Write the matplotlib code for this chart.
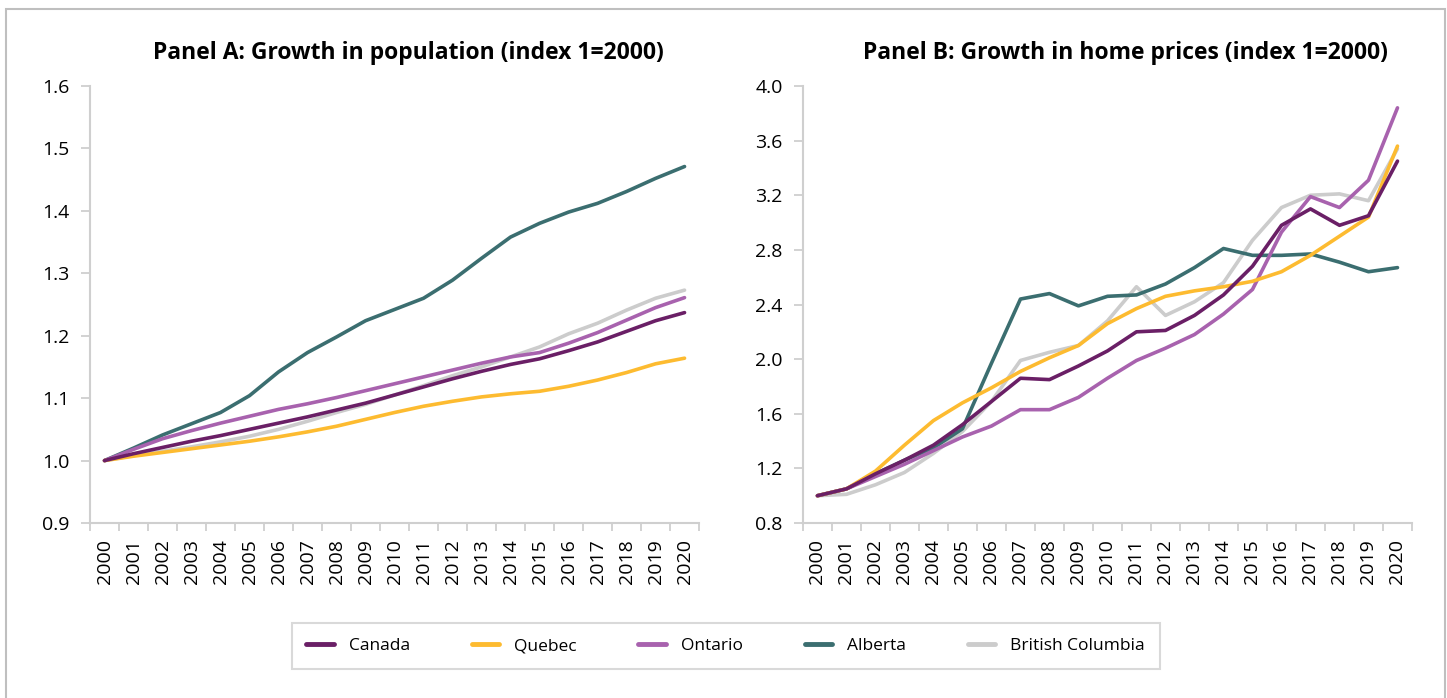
import matplotlib
matplotlib.use("Agg")
import matplotlib.pyplot as plt
from matplotlib.patches import Rectangle
import numpy as np

plt.rcParams['font.family'] = ['Open Sans', 'DejaVu Sans']

years = list(range(2000, 2021))
regions = ['Canada', 'Quebec', 'Ontario', 'Alberta', 'British Columbia']
colors = ['#6a1f66', '#fdbb30', '#a862ae', '#3b6e70', '#cccccc']

# Panel A: population index (2000 = 1)
pop_canada = [1.000, 1.011, 1.021, 1.031, 1.040, 1.050, 1.060, 1.070, 1.081, 1.092, 1.105,
              1.118, 1.131, 1.143, 1.154, 1.163, 1.176, 1.190, 1.207, 1.224, 1.237]
pop_quebec = [1.000, 1.007, 1.013, 1.019, 1.025, 1.031, 1.038, 1.046, 1.055, 1.066, 1.077,
              1.087, 1.095, 1.102, 1.107, 1.111, 1.119, 1.129, 1.141, 1.155, 1.164]
pop_ontario = [1.000, 1.018, 1.035, 1.048, 1.060, 1.071, 1.082, 1.091, 1.101, 1.112, 1.123,
               1.134, 1.145, 1.156, 1.166, 1.173, 1.188, 1.205, 1.225, 1.245, 1.261]
pop_alberta = [1.000, 1.020, 1.041, 1.059, 1.077, 1.104, 1.142, 1.173, 1.198, 1.224, 1.242,
               1.260, 1.289, 1.324, 1.358, 1.380, 1.398, 1.412, 1.431, 1.452, 1.471]
pop_bc = [1.000, 1.008, 1.015, 1.022, 1.030, 1.039, 1.050, 1.063, 1.077, 1.090, 1.105,
          1.120, 1.136, 1.150, 1.166, 1.182, 1.203, 1.220, 1.241, 1.260, 1.273]

# Panel B: home price index (2000 = 1)
hp_canada = [1.00, 1.05, 1.16, 1.26, 1.37, 1.52, 1.69, 1.86, 1.85, 1.95, 2.06,
             2.20, 2.21, 2.32, 2.47, 2.68, 2.98, 3.10, 2.98, 3.05, 3.45]
hp_quebec = [1.00, 1.05, 1.18, 1.37, 1.55, 1.68, 1.79, 1.91, 2.01, 2.10, 2.26,
             2.37, 2.46, 2.50, 2.53, 2.57, 2.64, 2.76, 2.90, 3.04, 3.56]
hp_ontario = [1.00, 1.05, 1.14, 1.23, 1.33, 1.43, 1.51, 1.63, 1.63, 1.72, 1.86,
              1.99, 2.08, 2.18, 2.33, 2.51, 2.93, 3.19, 3.11, 3.31, 3.84]
hp_alberta = [1.00, 1.05, 1.16, 1.26, 1.35, 1.49, 1.97, 2.44, 2.48, 2.39, 2.46,
              2.47, 2.55, 2.67, 2.81, 2.76, 2.76, 2.77, 2.71, 2.64, 2.67]
hp_bc = [1.00, 1.01, 1.08, 1.17, 1.31, 1.47, 1.69, 1.99, 2.05, 2.10, 2.28,
         2.53, 2.32, 2.42, 2.56, 2.87, 3.11, 3.20, 3.21, 3.16, 3.54]

pop = [pop_canada, pop_quebec, pop_ontario, pop_alberta, pop_bc]
hp = [hp_canada, hp_quebec, hp_ontario, hp_alberta, hp_bc]

fig = plt.figure(figsize=(14.47, 6.98), dpi=100)
ax1 = fig.add_axes([0.0622, 0.2507, 0.4209, 0.6261])
ax2 = fig.add_axes([0.5549, 0.2507, 0.4209, 0.6261])

axis_grey = '#cfcfcf'


def style_axis(ax, ylim, yticks, fmt):
    ax.set_xlim(1999.5, 2020.5)
    ax.set_ylim(*ylim)
    ax.set_yticks(yticks)
    ax.set_yticklabels([fmt.format(v) for v in yticks])
    ax.set_xticks(np.arange(1999.5, 2021, 1))
    ax.set_xticklabels([])
    ax.set_xticks(years, minor=True)
    ax.set_xticklabels([str(y) for y in years], minor=True, rotation=90)
    ax.tick_params(axis='x', which='major', length=6, width=1.3, color=axis_grey)
    ax.tick_params(axis='x', which='minor', length=0, pad=11.5, labelsize=14)
    ax.tick_params(axis='y', length=6.5, width=1.3, color=axis_grey, pad=8, labelsize=14)
    for s in ['top', 'right']:
        ax.spines[s].set_visible(False)
    for s in ['left', 'bottom']:
        ax.spines[s].set_color(axis_grey)
        ax.spines[s].set_linewidth(1.5)


lines = []
for i in reversed(range(len(regions))):
    ax1.plot(years, pop[i], color=colors[i], lw=2.6, solid_capstyle='round')
    ln, = ax2.plot(years, hp[i], color=colors[i], lw=2.6, solid_capstyle='round', label=regions[i])
    lines.append(ln)
lines = lines[::-1]

style_axis(ax1, (0.9, 1.6), np.round(np.arange(0.9, 1.61, 0.1), 1), '{:.1f}')
style_axis(ax2, (0.8, 4.0), np.round(np.arange(0.8, 4.01, 0.4), 1), '{:.1f}')

fig.text(0.282, 0.924, 'Panel A: Growth in population (index 1=2000)',
         ha='center', va='center', fontsize=16.5, fontweight='bold')
fig.text(0.778, 0.924, 'Panel B: Growth in home prices (index 1=2000)',
         ha='center', va='center', fontsize=16.5, fontweight='bold')

leg = fig.legend(lines, regions, loc='center', bbox_to_anchor=(0.5014, 0.0745), ncol=5,
                 fontsize=12.5, frameon=True, fancybox=False, handlelength=1.6,
                 handletextpad=0.85, columnspacing=3.55, borderpad=0.85)
leg.get_frame().set_edgecolor('#d0d0d0')
leg.get_frame().set_linewidth(1.5)
for h in leg.legend_handles:
    h.set_linewidth(3.5)

fig.patches.append(Rectangle((6 / 1447, -0.02), 1439 / 1447, 1 - 9 / 698 + 0.02,
                             transform=fig.transFigure, fill=False,
                             edgecolor='#bfbfbf', lw=1.5))

fig.savefig('out.png', dpi=100)
